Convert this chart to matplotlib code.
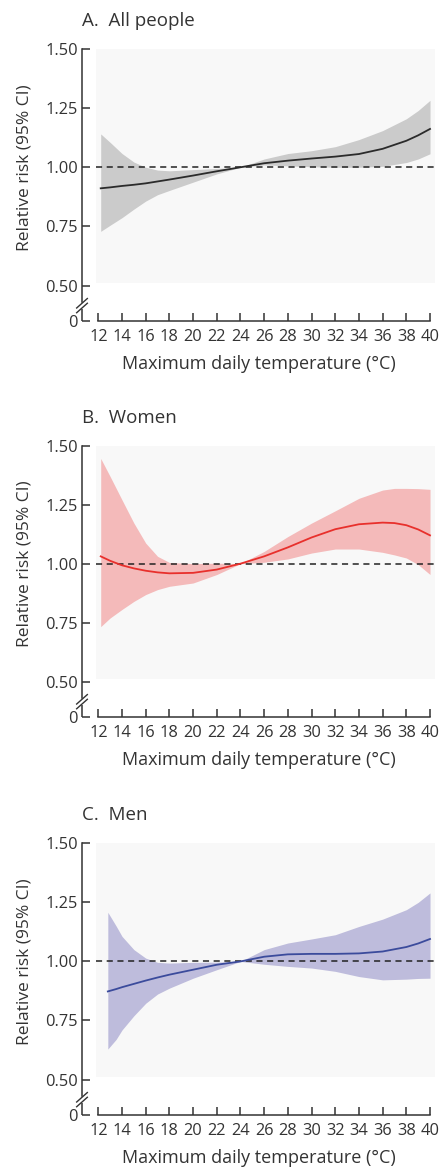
"""
Relative risk vs maximum daily temperature - three stacked panels
(all people / women / men), with 95% CI band and broken y axis.
"""

import matplotlib
matplotlib.use("Agg")
import matplotlib.pyplot as plt

plt.rcParams["font.family"] = ["Open Sans", "DejaVu Sans"]

# ── data ──────────────────────────────────────────────────────
TITLES = ["A.  All people", "B.  Women", "C.  Men"]

ALL_X = [12.2, 13, 14, 15, 16, 17, 18, 20, 22, 24, 26, 28, 30, 32, 34, 36, 38, 39, 40]
ALL_RR = [0.911, 0.915, 0.921, 0.926, 0.932, 0.940, 0.948, 0.965, 0.983, 1.0,
          1.017, 1.028, 1.037, 1.045, 1.056, 1.078, 1.112, 1.135, 1.162]
ALL_HI = [1.141, 1.105, 1.058, 1.022, 1.0, 0.988, 0.985, 0.990, 0.995, 1.0,
          1.035, 1.058, 1.070, 1.087, 1.117, 1.155, 1.205, 1.240, 1.283]
ALL_LO = [0.729, 0.755, 0.787, 0.823, 0.857, 0.884, 0.902, 0.937, 0.972, 1.0,
          1.010, 1.006, 1.002, 1.0, 1.0, 1.004, 1.020, 1.035, 1.057]

WOMEN_X = [12.2, 13, 14, 15, 16, 17, 18, 20, 22, 24, 26, 28, 30, 32, 34, 36, 37, 38, 39, 40]
WOMEN_RR = [1.031, 1.012, 0.993, 0.980, 0.970, 0.963, 0.959, 0.961, 0.975, 1.0,
            1.031, 1.069, 1.111, 1.146, 1.167, 1.174, 1.172, 1.163, 1.145, 1.120]
WOMEN_HI = [1.446, 1.369, 1.270, 1.172, 1.087, 1.031, 1.005, 1.0, 1.002, 1.0,
            1.052, 1.115, 1.172, 1.224, 1.277, 1.312, 1.319, 1.319, 1.318, 1.315]
WOMEN_LO = [0.733, 0.770, 0.806, 0.840, 0.869, 0.890, 0.904, 0.918, 0.954, 1.0,
            1.006, 1.020, 1.045, 1.062, 1.062, 1.048, 1.037, 1.024, 0.996, 0.954]

MEN_X = [12.8, 13.5, 14, 15, 16, 17, 18, 20, 22, 24, 26, 28, 30, 32, 34, 36, 38, 39, 40]
MEN_RR = [0.873, 0.883, 0.891, 0.905, 0.919, 0.932, 0.944, 0.965, 0.986, 1.0,
          1.020, 1.030, 1.032, 1.032, 1.034, 1.042, 1.061, 1.076, 1.095]
MEN_HI = [1.208, 1.150, 1.106, 1.050, 1.014, 0.996, 0.993, 0.996, 0.997, 1.0,
          1.050, 1.078, 1.095, 1.113, 1.148, 1.179, 1.219, 1.250, 1.290]
MEN_LO = [0.629, 0.670, 0.710, 0.770, 0.823, 0.862, 0.887, 0.929, 0.965, 1.0,
          0.988, 0.979, 0.972, 0.958, 0.936, 0.922, 0.925, 0.928, 0.929]

X_TICKS = list(range(12, 41, 2))
Y_TICKS = [0.50, 0.75, 1.00, 1.25, 1.50]
Y_TICK_LABELS = ["0.50", "0.75", "1.00", "1.25", "1.50"]

LINE_COLORS = ["#2b2b2b", "#e8302c", "#3b4b9c"]
BAND_COLORS = ["#cbcbcb", "#f4baba", "#bebcdc"]

# ── layout (pixels in a 443 x 1170 figure) ────────────────────
W, H = 443, 1170
Y0 = 0.35                 # where "0" sits below the axis break
XLIM = (10.62, 40.42)
BG_X0 = 11.83
PANEL_TOP = [49, 445.7, 843.3]      # pixel row of 1.50
PANEL_BOT = [321, 717, 1115]        # pixel row of 0
AX_LEFT, AX_RIGHT = 82, 435

SERIES = [
    (ALL_X, ALL_RR, ALL_LO, ALL_HI),
    (WOMEN_X, WOMEN_RR, WOMEN_LO, WOMEN_HI),
    (MEN_X, MEN_RR, MEN_LO, MEN_HI),
]


def draw_panel(ax, i):
    x, rr, lo, hi = SERIES[i]

    # light plotting region
    ax.fill_between([BG_X0, XLIM[1]], 0.51, 1.5, color="#f8f8f8", lw=0, zorder=0)
    ax.fill_between(x, lo, hi, color=BAND_COLORS[i], lw=0, zorder=1)
    ax.hlines(1.0, BG_X0, XLIM[1], colors="#222222", linestyles=(0, (4, 3)),
              lw=1.1, zorder=2)
    ax.plot(x, rr, color=LINE_COLORS[i], lw=1.3, zorder=3)

    ax.set_xlim(*XLIM)
    ax.set_ylim(Y0, 1.5)

    for side in ["top", "right"]:
        ax.spines[side].set_visible(False)
    ax.spines["left"].set_bounds(0.43, 1.5)
    ax.spines["bottom"].set_bounds(12, 40)
    ax.spines["left"].set_color("#333333")
    ax.spines["bottom"].set_color("#333333")
    ax.spines["left"].set_linewidth(1.1)
    ax.spines["bottom"].set_linewidth(1.1)

    ax.set_xticks(X_TICKS)
    ax.set_yticks([Y0] + Y_TICKS)
    ax.set_yticklabels(["0"] + Y_TICK_LABELS)
    ax.tick_params(axis="both", direction="in", length=6, width=1.1,
                   color="#333333", labelcolor="#333333", labelsize=11.8)
    ax.tick_params(axis="x", pad=6)
    ax.tick_params(axis="y", pad=3)

    # spine piece below the break, plus the // marks
    ax.plot([XLIM[0], XLIM[0]], [Y0, 0.40], color="#333333", lw=1.1,
            clip_on=False, solid_capstyle="butt")
    for yc in [0.405, 0.425]:
        ax.plot([XLIM[0] - 0.45, XLIM[0] + 0.45], [yc - 0.02, yc + 0.02],
                color="#333333", lw=1.0, clip_on=False)

    ax.set_xlabel("Maximum daily temperature (\u00b0C)", fontsize=13,
                  color="#333333", labelpad=7)
    ax.set_ylabel("Relative risk (95% CI)", fontsize=12.5, color="#333333")
    ax.yaxis.set_label_coords(-0.14, 0.565)
    ax.text(0.0, 1.07, TITLES[i], transform=ax.transAxes, fontsize=13.5,
            color="#333333", ha="left", va="bottom")


def main():
    fig = plt.figure(figsize=(W / 100, H / 100), dpi=100)
    for i in range(3):
        rect = [AX_LEFT / W, 1 - PANEL_BOT[i] / H,
                (AX_RIGHT - AX_LEFT) / W, (PANEL_BOT[i] - PANEL_TOP[i]) / H]
        ax = fig.add_axes(rect)
        draw_panel(ax, i)
    fig.savefig("out.png", dpi=100, facecolor="white")


if __name__ == "__main__":
    main()
